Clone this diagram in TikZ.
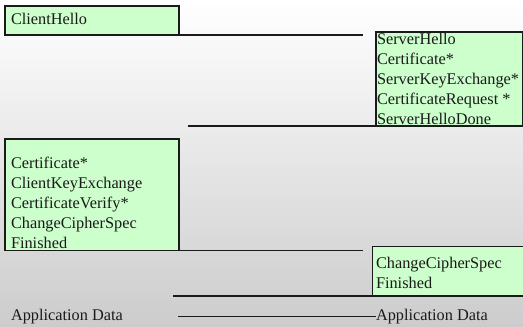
\documentclass[tikz,border=0pt]{standalone}
\usepackage{fontspec}
\setmainfont{Liberation Serif}
\newfontfamily\tnrfont{Liberation Serif}
\definecolor{boxgreen}{HTML}{CCFFCC}
\definecolor{bgbottom}{HTML}{CCCCCC}
\definecolor{ink}{HTML}{1A1A1A}
\begin{document}
\begin{tikzpicture}[x=1pt,y=-1pt,
  msgbox/.style={draw=ink, line width=1.2pt, fill=boxgreen, inner sep=0pt, outer sep=0pt, anchor=north west},
  msgtext/.style={inner sep=0pt, outer sep=0pt, anchor=north west, align=left, font=\tnrfont\fontsize{16.3}{20}\selectfont, text=ink},
  flow/.style={draw=ink, line width=1.5pt}]
\useasboundingbox (0,0) rectangle (523,327);
\shade[top color=white, bottom color=bgbottom] (0,0) rectangle (523,327);
% boxes
\node[msgbox, minimum width=174pt, minimum height=29pt] (chbox) at (5,6) {};
\node[msgbox, minimum width=146.5pt, minimum height=94pt] (shbox) at (376,32) {};
\node[msgbox, minimum width=174pt, minimum height=111.5pt] (ckbox) at (5,139) {};
\node[msgbox, minimum width=152pt, minimum height=49.5pt] (sfbox) at (372.5,246.5) {};
% texts
\node[msgtext] (chtext) at (11,13.4) {ClientHello};
\node[msgtext] (shtext) at (377,33.4) {ServerHello\\Certificate*\\ServerKeyExchange*\\CertificateRequest *\\ServerHelloDone};
\node[msgtext] (cktext) at (11,157.2) {Certificate*\\ClientKeyExchange\\CertificateVerify*\\ChangeCipherSpec\\Finished};
\node[msgtext] (sftext) at (376,257.2) {ChangeCipherSpec\\Finished};
\node[msgtext] (adc) at (11,308.9) {Application Data};
\node[msgtext] (ads) at (376,308.9) {Application Data};
% connectors
\coordinate (l1end) at (363,35);
\coordinate (l2end) at (188,126);
\coordinate (l3end) at (363,250.5);
\coordinate (l4end) at (173,296);
\coordinate (l5start) at (178,316.7);
\draw[flow] (chbox.south east) -- (chbox.south east -| l1end);
\draw[flow] (shbox.south west) -- (shbox.south west -| l2end);
\draw[flow] (ckbox.south east) -- (ckbox.south east -| l3end);
\draw[flow] (sfbox.south west) -- (sfbox.south west -| l4end);
\draw[flow] (l5start) -- (l5start -| ads.west);
\end{tikzpicture}
\end{document}
